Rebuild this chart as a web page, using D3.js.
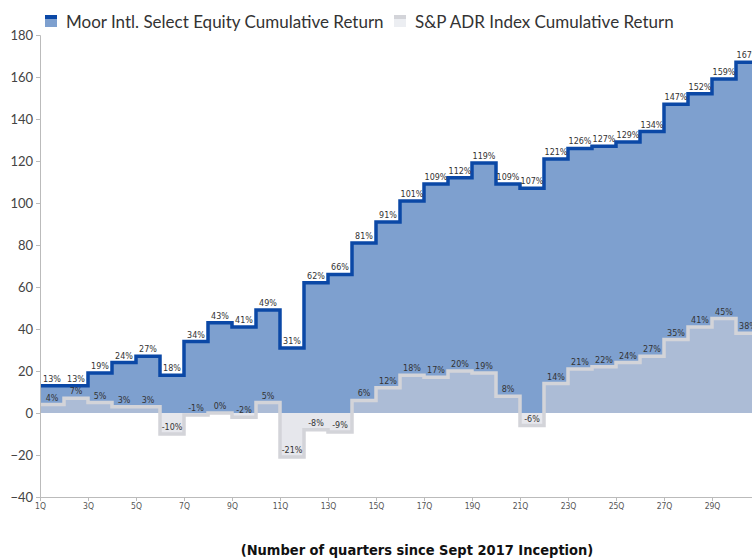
<!DOCTYPE html>
<html>
<head>
<meta charset="utf-8">
<script src="https://cdn.jsdelivr.net/npm/d3@7"></script>
<style>
  body { margin: 0; background: #fff; }
  svg { display: block; }
</style>
</head>
<body>
<script>
// quarterly cumulative returns (%)
var quarters = d3.range(1, 31).map(function(q) { return q + 'Q'; });
var moorReturns = [13, 13, 19, 24, 27, 18, 34, 43, 41, 49, 31, 62, 66, 81, 91, 101, 109, 112, 119, 109, 107, 121, 126, 127, 129, 134, 147, 152, 159, 167];
var adrReturns = [4, 7, 5, 3, 3, -10, -1, 0, -2, 5, -21, -8, -9, 6, 12, 18, 17, 20, 19, 8, -6, 14, 21, 22, 24, 27, 35, 41, 45, 38];
var yTicks = [-40, -20, 0, 20, 40, 60, 80, 100, 120, 140, 160, 180];
var seriesNames = ['Moor Intl. Select Equity Cumulative Return', 'S&P ADR Index Cumulative Return'];

var width = 752, height = 559;
var svg = d3.select('body').append('svg')
  .attr('width', width)
  .attr('height', height);

var x = d3.scaleLinear().domain([0, 30]).range([40, 760]);
var y = d3.scaleLinear().domain([-40, 180]).range([497, 35]);

function stepPoints(vals) {
  var pts = vals.map(function(v, i) { return [i, v]; });
  pts.push([vals.length, vals[vals.length - 1]]);
  return pts;
}

var area = d3.area()
  .x(function(d) { return x(d[0]); })
  .y0(y(0))
  .y1(function(d) { return y(d[1]); })
  .curve(d3.curveStepAfter);
var line = d3.line()
  .x(function(d) { return x(d[0]); })
  .y(function(d) { return y(d[1]); })
  .curve(d3.curveStepAfter);

var moorPts = stepPoints(moorReturns);
var adrPts = stepPoints(adrReturns);

svg.append('path').attr('d', area(moorPts)).attr('fill', '#7ea0cf');
svg.append('path').attr('d', area(adrPts)).attr('fill', '#d2d4dc').attr('opacity', 0.55);
svg.append('path').attr('d', line(adrPts)).attr('fill', 'none')
  .attr('stroke', '#d3d4d9').attr('stroke-width', 3.5);
svg.append('path').attr('d', line(moorPts)).attr('fill', 'none')
  .attr('stroke', '#0b48a6').attr('stroke-width', 3.5);

// axes
var yAxis = svg.append('g')
  .attr('transform', 'translate(40,0)')
  .call(d3.axisLeft(y).tickValues(yTicks).tickSize(4).tickFormat(d3.format('d')));
yAxis.selectAll('text').attr('font-family', 'Lato, sans-serif').attr('font-size', 13).attr('fill', '#444');
yAxis.selectAll('line, path').attr('stroke', '#bbb');

var xAxis = svg.append('g')
  .attr('transform', 'translate(0,' + y(-40) + ')')
  .call(d3.axisBottom(x).tickValues(d3.range(0, 30, 2)).tickSize(4)
    .tickFormat(function(d) { return quarters[d]; }));
xAxis.selectAll('text').attr('font-family', '"DejaVu Sans Condensed", sans-serif')
  .attr('font-size', 8.5).attr('fill', '#555').attr('dy', '0.6em');
xAxis.selectAll('line, path').attr('stroke', '#bbb');

// value labels
function addLabels(vals) {
  svg.append('g').selectAll('text').data(vals).enter().append('text')
    .attr('x', function(d, i) { return x(i + 0.5); })
    .attr('y', function(d) { return y(d) - 4; })
    .attr('text-anchor', 'middle')
    .attr('font-family', '"DejaVu Sans", sans-serif')
    .attr('font-size', 8)
    .attr('fill', '#333')
    .text(function(d) { return d + '%'; });
}
addLabels(moorReturns);
addLabels(adrReturns);

// legend
var legend = svg.append('g');
legend.append('rect').attr('x', 45).attr('y', 15).attr('width', 12).attr('height', 12).attr('fill', '#7ea0cf');
legend.append('rect').attr('x', 45).attr('y', 15).attr('width', 12).attr('height', 4).attr('fill', '#0b48a6');
legend.append('text').attr('x', 66).attr('y', 28)
  .attr('font-family', 'Lato, sans-serif').attr('font-size', 17).attr('fill', '#333')
  .text(seriesNames[0]);
legend.append('rect').attr('x', 394).attr('y', 15).attr('width', 12).attr('height', 12).attr('fill', '#eceef2');
legend.append('rect').attr('x', 394).attr('y', 15).attr('width', 12).attr('height', 4).attr('fill', '#d3d4d9');
legend.append('text').attr('x', 415).attr('y', 28)
  .attr('font-family', 'Lato, sans-serif').attr('font-size', 17).attr('fill', '#333')
  .text(seriesNames[1]);

// caption
svg.append('text').attr('x', 417).attr('y', 555)
  .attr('text-anchor', 'middle')
  .attr('font-family', '"DejaVu Sans Condensed", sans-serif')
  .attr('font-weight', 'bold').attr('font-size', 14.5).attr('fill', '#111')
  .text('(Number of quarters since Sept 2017 Inception)');
</script>
</body>
</html>
